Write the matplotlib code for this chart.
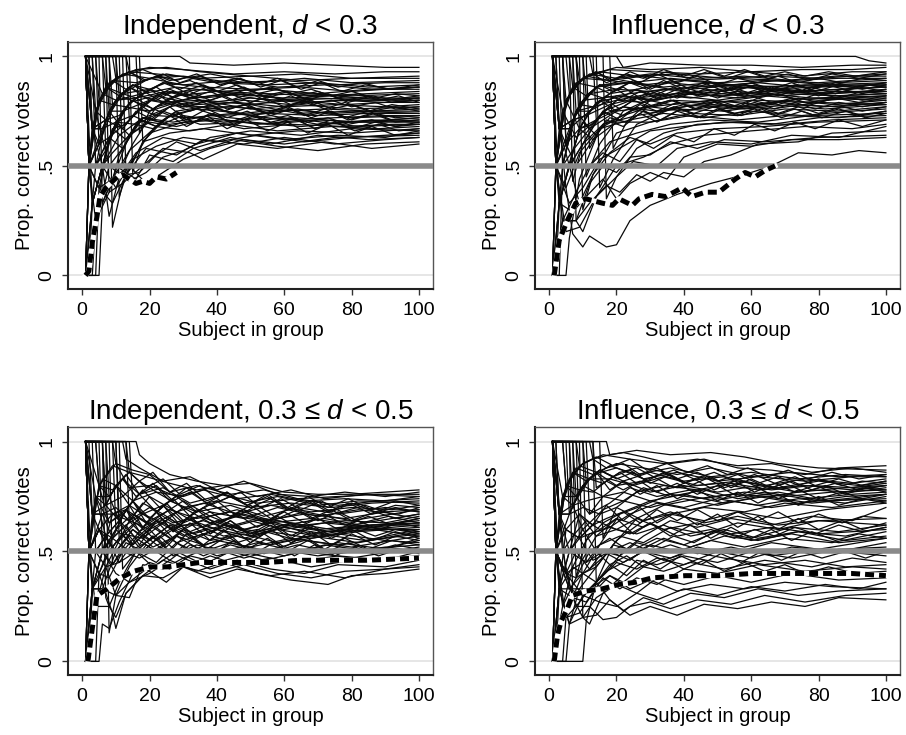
import matplotlib
matplotlib.use("Agg")
from matplotlib import pyplot as plt

plt.rcParams['font.family'] = ['Liberation Sans', 'DejaVu Sans']
plt.rcParams['mathtext.fontset'] = 'custom'
plt.rcParams['mathtext.rm'] = 'Liberation Sans'
plt.rcParams['mathtext.it'] = 'Liberation Sans:italic'

# each group line: "subject:percent-correct" anchors
tl_lines = [
    "1:100 29:100 32:97 45:96 60:97 75:96 90:95 100:95",
    "1:100 13:100 14:93 20:95 30:94 45:92 60:93 75:92 90:93 100:93",
    "1:100 9:100 10:90 16:94 25:95 35:93 50:91 65:92 80:90 100:91",
    "1:100 2:50 4:75 8:88 14:93 22:92 35:90 50:91 65:89 80:90 100:90",
    "1:100 3:67 6:83 12:92 20:90 30:91 45:88 60:89 75:87 90:88 100:88",
    "1:0 2:50 4:75 9:89 16:88 25:92 40:88 55:87 70:88 85:86 100:87",
    "1:100 6:100 7:57 10:70 15:80 24:88 36:86 50:85 65:86 80:84 100:86",
    "1:100 2:50 5:60 10:80 18:83 28:86 40:84 55:85 70:83 85:85 100:85",
    "1:100 16:100 17:65 20:75 28:82 40:84 55:83 70:82 85:83 100:84",
    "1:0 4:0 5:40 8:62 14:79 24:83 36:85 50:82 65:83 80:82 100:83",
    "1:100 11:100 12:50 15:60 22:77 32:81 45:83 60:81 75:82 90:80 100:82",
    "1:100 2:50 3:67 7:71 12:83 20:85 30:80 42:83 55:80 70:81 85:80 100:81",
    "1:0 2:50 6:67 10:80 16:81 25:84 38:79 50:81 65:79 80:80 100:80",
    "1:100 7:100 8:38 11:55 17:71 26:77 36:80 50:78 62:80 78:78 90:79 100:79",
    "1:100 3:100 4:50 8:63 14:71 22:82 34:78 46:79 60:77 75:78 90:77 100:78",
    "1:100 2:50 5:80 9:78 15:87 24:79 35:80 50:76 65:78 80:76 100:77",
    "1:0 3:0 4:25 7:57 12:75 20:80 30:77 44:77 58:75 72:76 86:75 100:76",
    "1:100 14:100 15:47 18:61 25:72 34:76 48:74 60:76 74:74 88:75 100:75",
    "1:100 2:50 4:50 8:63 13:77 20:75 28:79 40:73 55:74 70:73 85:74 100:74",
    "1:100 5:100 6:33 9:44 14:64 22:73 32:72 45:74 60:71 75:72 90:73 100:73",
    "1:0 2:0 3:33 6:50 11:64 18:72 27:70 38:73 50:71 64:72 80:70 100:72",
    "1:100 10:100 11:36 14:50 20:65 30:70 42:71 55:69 70:71 85:70 100:71",
    "1:100 2:50 3:33 6:50 10:70 16:69 24:75 35:69 50:70 65:68 80:70 100:70",
    "1:100 4:75 8:50 12:58 18:72 26:69 36:71 48:67 62:69 78:68 92:69 100:69",
    "1:0 5:0 6:33 9:44 14:57 22:68 32:66 44:69 58:66 74:68 88:67 100:68",
    "1:100 8:100 9:22 12:42 18:61 26:65 36:67 50:64 64:66 80:65 100:67",
    "1:100 2:50 6:50 8:27 11:45 16:56 24:63 34:60 46:65 60:62 76:64 90:63 100:66",
    "1:100 3:67 6:50 10:40 15:53 22:59 30:63 40:61 52:64 66:61 80:63 100:65",
    "1:0 2:50 5:40 9:33 13:46 19:58 28:55 36:62 48:60 60:63 75:60 90:62 100:63",
    "1:100 12:100 13:46 17:47 22:55 28:61 35:57 45:62 58:59 70:57 84:60 100:61",
    "1:100 2:50 4:25 8:38 12:42 18:50 24:58 32:56 36:53 46:60 58:58 72:61 86:58 100:60",
    "1:100 3:33 6:50 10:50 16:44 20:55 27:52 33:58 44:63 56:60 70:64 85:62 100:63",
    "1:0 4:25 8:50 14:43 19:47 24:54 30:57 38:63 50:66 65:64 80:67 100:66",
    "1:100 2:50 5:40 9:44 14:50 19:42 25:48 30:53 38:58 48:62 60:60 75:63 100:64",
    "1:100 17:100 18:61 22:68 28:75 36:77 48:80 62:78 76:80 90:79 100:80",
    "1:100 4:100 5:80 10:90 18:94 26:89 38:92 52:88 66:90 80:88 100:89",
    "1:100 2:50 4:75 7:86 12:83 20:90 30:87 44:89 58:86 72:87 86:85 100:86",
    "1:0 2:50 3:67 7:71 11:82 18:78 26:84 36:81 48:83 62:80 78:81 100:81",
    "1:100 6:83 10:80 14:86 20:80 28:79 38:76 50:78 64:74 80:75 100:74",
    "1:100 2:100 3:67 6:67 10:70 15:73 22:68 30:73 42:70 56:73 70:69 86:71 100:70",
    "1:100 3:100 4:75 7:71 12:67 18:78 26:73 36:77 50:73 64:76 80:72 100:73",
    "1:0 3:33 6:50 9:56 14:64 20:70 28:68 38:72 52:69 66:71 82:68 100:69",
    "1:100 2:50 5:80 9:89 13:85 17:88 22:91 27:87 32:89 38:85 44:88 50:84 56:86 62:83 68:85 74:82 80:84 87:81 93:83 100:82",
    "1:0 2:50 4:75 7:86 11:82 15:87 20:85 25:88 30:84 36:87 42:83 48:86 54:82 60:84 66:81 72:83 78:80 85:82 92:79 100:80",
    "1:100 7:100 8:75 11:82 15:87 19:84 24:88 29:85 34:88 40:84 46:87 52:83 58:85 64:82 70:84 76:81 82:83 88:80 94:82 100:79",
    "1:100 3:67 6:67 9:78 13:77 17:82 22:80 27:84 32:81 38:84 44:80 50:83 56:79 62:82 68:78 74:80 80:77 87:79 93:76 100:77",
    "1:100 10:100 11:82 14:86 18:83 22:86 27:81 32:84 38:80 44:83 50:79 56:82 62:78 68:80 74:76 80:78 86:75 93:77 100:75",
    "1:0 3:33 6:50 9:67 13:69 17:76 22:73 27:78 32:75 38:78 44:74 50:77 56:73 62:76 68:72 74:75 80:71 87:74 93:72 100:73",
    "1:100 2:50 4:50 7:71 11:73 15:80 20:75 25:80 30:77 36:79 42:75 48:78 54:74 60:77 66:73 72:76 78:72 85:75 92:71 100:72",
    "1:100 4:100 5:60 8:75 12:75 16:81 21:76 26:81 31:77 37:80 43:76 49:78 55:74 61:77 67:73 73:75 79:71 86:74 93:70 100:71",
    "1:100 2:50 6:50 9:67 13:62 17:71 22:68 27:74 32:69 38:74 44:70 50:73 56:70 62:72 68:68 74:71 80:67 87:70 93:68 100:69",
    "1:0 2:50 5:60 8:75 12:67 16:75 21:71 26:77 31:71 37:76 43:72 49:75 55:71 61:73 67:70 73:72 79:69 86:71 93:68 100:70",
    "1:100 13:100 14:71 17:76 21:81 26:85 31:82 37:86 43:82 49:85 55:81 61:84 67:80 73:83 79:79 86:82 93:80 100:81",
    "1:100 2:100 3:67 6:83 10:90 14:93 19:89 24:92 29:88 35:91 41:87 47:90 53:86 59:89 65:85 71:88 77:84 84:87 92:85 100:86",
    "1:100 6:100 7:86 10:90 14:93 18:89 23:91 28:89 34:92 40:88 46:90 52:87 58:90 64:86 70:89 76:86 83:88 91:85 100:87",
    "1:0 4:50 7:57 10:70 14:64 18:72 23:70 28:75 33:70 39:74 45:69 51:73 57:69 63:72 69:67 75:70 81:66 88:69 94:66 100:67",
    "1:100 3:67 5:60 8:63 12:58 16:69 21:67 26:73 31:68 37:73 43:67 49:71 55:66 61:70 67:65 73:69 79:64 86:68 93:64 100:65",
    "1:100 8:100 9:78 12:83 16:81 20:85 25:80 30:84 36:79 42:82 48:78 54:81 60:77 66:80 72:76 78:79 85:75 92:78 100:76",
]

tr_lines = [
    "1:100 91:100 95:98 100:97",
    "1:100 20:100 22:95 30:97 45:96 60:96 75:95 90:96 100:96",
    "1:100 12:100 13:92 20:95 30:94 45:95 60:93 75:94 90:94 100:95",
    "1:100 2:50 5:80 10:90 18:94 30:93 45:92 60:93 75:91 90:93 100:93",
    "1:100 8:100 9:89 15:93 25:91 38:92 52:90 66:91 80:90 100:92",
    "1:0 2:50 5:80 10:90 18:89 28:91 40:89 55:90 70:89 85:91 100:91",
    "1:100 4:100 5:60 9:78 15:87 24:88 36:90 50:88 64:89 80:88 100:90",
    "1:100 18:100 19:58 23:70 30:80 42:85 56:87 70:86 85:88 100:89",
    "1:100 2:50 4:75 8:88 14:86 22:89 34:86 48:88 62:86 76:87 90:86 100:88",
    "1:0 3:0 4:50 8:75 14:86 24:88 36:85 50:87 64:85 80:86 100:87",
    "1:100 10:100 11:45 15:60 22:75 32:82 44:84 58:86 72:84 86:85 100:86",
    "1:100 3:67 7:71 12:83 20:85 30:84 42:86 56:83 70:85 85:83 100:85",
    "1:100 6:100 7:43 10:60 16:75 26:81 38:83 52:82 66:84 80:83 100:84",
    "1:100 2:50 6:67 12:75 20:82 30:80 42:83 56:81 70:83 85:82 100:83",
    "1:0 5:0 6:17 9:44 15:67 24:75 36:80 50:79 64:82 80:80 100:82",
    "1:100 14:100 15:40 19:53 26:69 36:76 48:79 62:80 76:79 90:81 100:81",
    "1:100 2:50 3:33 7:57 12:67 20:75 30:77 42:79 56:77 70:80 85:78 100:80",
    "1:100 4:75 8:63 14:71 22:77 32:75 44:78 58:76 72:78 86:77 100:79",
    "1:0 2:0 3:33 6:50 10:60 16:69 26:73 38:76 52:75 66:78 82:76 100:78",
    "1:100 9:100 10:30 13:46 20:65 30:70 42:74 56:73 70:76 85:75 100:77",
    "1:100 2:50 5:40 9:56 15:67 24:71 34:74 46:72 60:75 75:73 90:75 100:76",
    "1:100 3:100 4:50 8:50 13:62 20:70 30:70 42:73 56:71 70:73 86:72 100:75",
    "1:0 4:25 8:38 12:50 18:61 26:65 36:69 48:71 62:70 78:73 100:74",
    "1:100 2:50 6:33 10:40 15:53 22:59 30:66 40:68 52:70 66:69 80:72 100:73",
    "1:100 16:100 17:35 20:45 26:58 34:65 44:69 56:70 70:69 84:71 100:72",
    "1:100 3:67 6:50 9:33 13:46 18:56 24:63 30:60 38:65 50:67 64:68 80:70 100:71",
    "1:100 7:100 8:25 10:20 14:36 20:50 28:54 36:60 46:64 60:66 76:68 90:67 100:69",
    "1:0 2:50 5:20 9:22 14:36 20:45 25:52 32:50 38:58 48:61 60:60 72:64 86:63 100:68",
    "1:100 2:50 4:25 8:25 12:42 16:50 20:47 24:54 30:55 36:61 44:58 52:62 64:61 80:63 100:64",
    "1:100 3:33 7:29 11:36 16:44 20:35 24:42 30:47 35:44 40:54 50:60 60:59 72:62 86:62 100:63",
    "1:100 5:40 7:19 10:13 12:18 17:13 20:14 24:25 30:32 38:37 48:42 58:46 66:50 74:56 84:55 92:57 100:56",
    "1:0 4:25 8:25 12:33 17:41 21:38 26:46 30:43 34:47 40:45 46:52 54:55 62:60 74:61 84:65 100:66",
    "1:100 2:100 3:67 7:86 12:92 20:90 30:92 44:90 58:91 72:89 86:90 100:90",
    "1:100 5:100 6:83 11:91 18:89 28:87 40:89 54:87 68:89 82:87 100:88",
    "1:0 2:50 4:50 8:75 13:77 20:80 30:83 42:81 56:84 70:82 84:84 100:84",
    "1:100 2:50 3:67 7:71 11:73 18:78 26:81 36:78 48:80 62:78 76:81 100:80",
    "1:100 4:100 5:80 9:67 14:79 22:82 32:80 44:84 58:82 72:84 86:82 100:83",
    "1:100 11:100 12:58 16:69 22:73 30:77 40:75 52:78 66:76 80:79 100:78",
    "1:0 3:33 6:50 10:60 15:73 22:77 30:74 40:78 54:76 68:79 82:77 100:79",
    "1:100 2:50 5:60 9:67 14:71 20:80 28:79 38:82 50:80 64:83 78:81 100:82",
    "1:100 3:67 6:67 10:80 16:81 24:83 34:85 46:83 60:86 74:84 88:85 100:86",
    "1:100 8:100 9:67 12:75 18:83 26:85 36:88 48:86 62:88 76:86 90:87 100:87",
    "1:100 2:50 5:80 9:89 13:92 17:88 22:91 27:88 32:92 38:88 44:91 50:87 56:90 62:88 68:91 74:88 80:90 87:88 93:90 100:89",
    "1:0 2:50 4:75 7:86 11:82 15:87 20:85 25:89 30:85 36:89 42:85 48:88 54:85 60:88 66:85 72:88 78:85 85:88 92:86 100:88",
    "1:100 7:100 8:75 11:82 15:87 19:84 24:88 29:85 34:89 40:85 46:88 52:84 58:87 64:84 70:87 76:84 82:87 88:85 94:87 100:86",
    "1:100 3:67 6:67 9:78 13:77 17:82 22:80 27:84 32:81 38:85 44:82 50:85 56:82 62:85 68:82 74:85 80:82 87:85 93:83 100:85",
    "1:100 10:100 11:82 14:86 18:83 22:86 27:81 32:84 38:81 44:84 50:81 56:84 62:81 68:83 74:80 80:83 86:81 93:84 100:83",
    "1:0 3:33 6:50 9:67 13:69 17:76 22:73 27:78 32:75 38:79 44:76 50:80 56:77 62:81 68:78 74:81 80:79 87:82 93:80 100:82",
    "1:100 2:50 4:50 7:71 11:73 15:80 20:75 25:80 30:77 36:80 42:77 48:80 54:77 60:80 66:78 72:81 78:78 85:81 92:79 100:81",
    "1:100 4:100 5:60 8:75 12:75 16:81 21:76 26:81 31:77 37:80 43:76 49:79 55:76 61:79 67:76 73:79 79:76 86:79 93:77 100:79",
    "1:100 2:50 6:50 9:67 13:62 17:71 22:68 27:74 32:70 38:75 44:72 50:76 56:73 62:77 68:74 74:77 80:74 87:77 93:75 100:77",
    "1:0 2:50 5:60 8:75 12:67 16:75 21:71 26:77 31:73 37:77 43:74 49:77 55:74 61:76 67:73 73:76 79:73 86:76 93:73 100:75",
    "1:100 13:100 14:71 17:76 21:81 26:85 31:82 37:86 43:83 49:87 55:84 61:87 67:84 73:87 79:84 86:87 93:85 100:87",
    "1:100 2:100 3:67 6:83 10:90 14:93 19:89 24:93 29:90 35:93 41:90 47:93 53:90 59:93 65:90 71:92 77:89 84:92 92:90 100:92",
    "1:100 6:100 7:86 10:90 14:93 18:89 23:92 28:90 34:94 40:91 46:94 52:91 58:94 64:91 70:93 76:91 83:93 91:91 100:93",
    "1:0 4:50 7:57 10:70 14:64 18:72 23:70 28:75 33:71 39:76 45:72 51:76 57:73 63:76 69:72 75:75 81:72 88:75 94:72 100:74",
    "1:100 3:67 5:60 8:50 12:50 16:56 21:52 26:62 31:58 37:64 43:61 49:67 55:64 61:69 67:66 73:70 79:67 86:71 93:68 100:71",
    "1:100 8:100 9:78 12:83 16:81 20:85 25:80 30:84 36:81 42:85 48:82 54:86 60:83 66:86 72:83 78:86 85:83 92:86 100:84",
]

bl_lines = [
    "1:100 16:100 17:94 20:90 26:85 34:82 42:80 50:81 60:77 70:76 80:76 90:77 100:78",
    "1:100 12:100 13:92 17:88 24:82 32:84 40:78 48:82 58:76 68:75 78:77 90:75 100:77",
    "1:100 2:50 5:80 10:90 15:87 20:85 26:77 34:80 44:76 54:78 64:74 76:75 88:76 100:76",
    "1:100 9:100 10:90 14:79 20:80 28:75 36:78 46:74 56:76 66:73 78:74 90:73 100:75",
    "1:0 2:50 4:75 8:75 12:83 17:76 24:79 32:72 42:76 52:72 64:74 76:71 88:73 100:74",
    "1:100 6:100 7:71 10:80 15:73 22:77 30:70 40:73 50:70 62:72 74:70 86:72 100:73",
    "1:100 3:67 6:67 10:70 14:64 20:75 28:68 36:72 46:67 56:71 68:68 80:70 92:69 100:71",
    "1:100 14:100 15:73 18:67 24:71 30:63 38:68 48:65 58:70 70:66 82:69 94:67 100:70",
    "1:100 2:50 4:75 8:63 13:69 19:63 26:69 34:65 44:68 54:64 66:67 78:65 90:68 100:69",
    "1:0 3:33 6:50 10:60 15:67 21:62 28:68 36:61 46:66 56:63 68:65 80:62 100:67",
    "1:100 5:100 6:50 9:67 14:64 20:70 27:63 35:66 44:61 54:65 66:62 78:64 90:63 100:66",
    "1:100 2:50 5:60 8:50 12:58 17:65 24:58 31:65 40:60 50:64 60:60 72:63 86:61 100:65",
    "1:100 10:100 11:55 14:64 20:60 26:65 33:58 42:62 52:59 62:63 74:60 86:62 100:64",
    "1:0 4:0 5:40 8:50 12:58 18:56 24:63 32:56 40:60 50:57 60:61 72:58 86:62 100:63",
    "1:100 3:100 4:50 7:57 11:64 16:56 22:64 30:57 38:61 48:56 58:60 70:57 84:60 100:62",
    "1:100 2:50 3:33 6:50 10:60 15:53 21:62 28:54 36:58 46:54 56:59 68:56 82:59 100:61",
    "1:100 8:100 9:44 12:50 17:59 23:52 30:60 38:55 48:58 58:54 70:58 84:55 100:60",
    "1:0 2:0 3:33 6:33 10:50 15:60 21:52 28:57 36:53 46:57 56:53 68:57 82:54 100:59",
    "1:100 2:50 6:50 9:44 13:54 18:50 24:58 32:50 40:55 50:52 62:56 76:53 90:56 100:58",
    "1:100 4:75 7:57 11:45 16:56 22:50 28:57 36:50 44:54 54:50 66:55 80:52 100:57",
    "1:100 11:100 12:42 16:50 21:57 27:48 34:53 42:50 52:54 64:50 76:54 90:51 100:56",
    "1:0 3:33 7:43 10:30 14:43 19:53 26:46 32:53 40:48 50:52 60:48 72:53 86:50 100:55",
    "1:100 2:50 5:40 8:38 12:50 17:47 23:52 30:47 38:52 48:47 58:51 70:48 84:51 100:53",
    "1:100 6:100 7:29 8:25 11:36 16:50 21:43 28:50 36:44 44:50 54:46 66:50 80:47 100:52",
    "1:0 5:0 6:17 8:15 11:27 15:40 20:45 26:42 32:48 40:45 50:49 62:45 76:48 90:46 100:50",
    "1:100 2:50 4:25 8:25 10:20 13:31 18:39 24:46 30:43 38:48 46:44 56:47 68:43 80:46 100:48",
    "1:100 3:33 6:33 10:30 14:29 18:44 24:42 30:47 38:42 46:46 56:42 66:40 76:44 90:43 100:46",
    "1:0 2:50 5:40 9:22 10:15 13:31 18:39 24:38 30:43 38:40 48:44 58:40 68:38 78:41 90:42 100:44",
    "1:100 7:100 8:13 10:30 14:36 20:40 26:46 34:41 42:45 52:40 62:37 73:35 80:39 90:40 100:42",
    "1:100 2:50 6:50 10:40 14:36 19:42 25:36 30:43 38:38 46:42 56:39 66:41 78:38 90:42 100:43",
    "1:100 4:100 5:80 9:89 14:86 19:84 26:81 34:78 42:80 52:75 62:78 72:74 84:76 100:75",
    "1:100 2:50 3:67 7:71 12:75 17:82 22:77 30:75 38:79 48:72 58:75 70:71 82:73 100:72",
    "1:0 2:50 5:60 9:67 14:71 20:65 26:73 34:68 44:71 54:66 64:70 76:67 90:70 100:68",
    "1:100 13:100 14:64 18:72 24:67 30:73 38:66 46:69 56:64 66:68 80:64 92:67 100:65",
    "1:100 3:67 5:60 9:56 13:62 18:67 24:63 30:70 38:63 48:67 60:62 72:65 86:61 100:63",
    "1:0 2:0 3:33 5:40 9:56 14:50 20:55 26:62 34:56 42:62 52:58 62:62 74:59 88:60 100:60",
    "1:100 2:50 4:50 7:43 11:55 16:63 22:55 28:61 36:64 46:59 56:63 68:58 82:61 100:57",
    "1:100 5:80 8:63 12:67 17:59 23:65 30:60 38:66 48:60 58:64 70:60 84:62 100:62",
    "1:100 9:100 10:60 13:69 18:61 24:67 32:59 40:64 50:58 60:62 72:59 86:61 100:59",
    "1:100 2:50 5:60 10:50 15:60 20:55 26:62 34:62 42:57 52:60 64:55 76:58 90:55 100:54",
    "1:0 4:25 7:43 11:45 16:50 22:45 28:54 36:48 44:53 54:49 64:53 76:49 90:52 100:50",
    "1:100 2:50 5:80 9:78 13:85 17:76 22:80 27:73 32:77 38:71 44:75 50:70 56:74 62:69 68:73 74:68 80:72 87:68 93:71 100:70",
    "1:0 2:50 4:75 7:71 11:64 15:73 20:65 25:72 30:64 36:70 42:64 48:69 54:63 60:68 66:63 72:67 78:62 85:66 92:62 100:65",
    "1:100 7:100 8:75 11:64 15:73 19:63 24:71 29:62 34:69 40:62 46:67 52:61 58:66 64:61 70:65 76:60 82:64 88:60 94:63 100:61",
    "1:100 3:67 6:67 9:56 13:69 17:59 22:68 27:59 32:66 38:58 44:64 50:58 56:63 62:57 68:62 74:57 80:61 87:57 93:60 100:58",
    "1:100 10:100 11:64 14:71 18:61 22:68 27:59 32:66 38:58 44:64 50:57 56:62 62:56 68:61 74:56 80:60 86:55 93:59 100:56",
    "1:0 3:33 6:50 9:56 13:62 17:53 22:64 27:56 32:63 38:55 44:61 50:54 56:60 62:54 68:59 74:53 80:58 87:53 93:57 100:55",
    "1:100 2:50 4:50 7:57 11:64 15:53 20:60 25:52 30:60 36:53 42:60 48:52 54:58 60:52 66:57 72:51 78:56 85:51 92:55 100:53",
    "1:100 4:100 5:80 8:75 12:83 16:75 21:81 26:73 31:79 37:72 43:77 49:71 55:76 61:70 67:75 73:70 79:74 86:69 93:73 100:71",
    "1:100 2:50 6:67 9:67 13:69 17:76 22:68 27:74 32:66 38:72 44:66 50:71 56:65 62:70 68:65 74:69 80:64 87:68 93:65 100:67",
    "1:0 2:50 5:60 8:50 12:58 16:50 21:57 26:50 31:58 37:51 43:57 49:51 55:56 61:50 67:55 73:50 79:54 86:50 93:53 100:51",
    "1:100 13:100 14:86 17:82 21:86 26:77 31:81 37:73 43:77 49:71 55:75 61:69 67:73 73:68 79:72 86:67 93:70 100:68",
    "1:100 2:100 3:67 6:83 10:80 14:86 19:79 24:83 29:76 35:80 41:73 47:77 53:70 59:74 65:69 71:73 77:68 84:71 92:67 100:69",
    "1:100 6:100 7:71 10:80 14:71 18:78 23:70 28:75 34:68 40:73 46:66 52:71 58:65 64:69 70:64 76:68 83:63 91:66 100:63",
    "1:0 4:50 7:57 10:50 14:57 18:50 23:57 28:50 33:56 39:49 45:55 51:49 57:54 63:48 69:53 75:48 81:52 88:48 94:51 100:49",
]

br_lines = [
    "1:100 17:100 18:94 22:95 28:93 36:90 46:92 56:88 66:87 76:85 86:88 100:89",
    "1:100 12:100 13:92 18:94 26:96 36:94 48:95 58:93 68:90 80:88 100:87",
    "1:100 2:50 5:80 10:90 16:94 24:92 34:90 44:92 56:89 66:90 78:86 90:88 100:86",
    "1:100 8:100 9:89 14:86 20:90 28:88 38:85 48:88 60:84 72:86 86:84 100:85",
    "1:0 2:50 4:75 8:88 13:85 20:88 28:83 38:86 50:82 62:84 76:82 90:84 100:84",
    "1:100 5:100 6:67 10:80 15:87 22:82 30:86 40:82 52:84 64:80 76:83 90:81 100:83",
    "1:100 3:67 7:71 12:83 18:83 25:80 34:84 44:80 56:82 68:79 80:82 92:80 100:82",
    "1:100 15:100 16:56 20:70 26:77 34:80 44:78 54:81 66:78 78:80 90:79 100:81",
    "1:100 2:50 6:67 10:80 16:75 22:82 30:77 40:80 50:77 62:80 74:77 88:79 100:80",
    "1:0 10:0 11:18 14:36 19:53 26:65 34:71 44:74 54:76 66:75 78:78 90:77 100:79",
    "1:100 10:100 11:45 15:53 21:67 28:71 36:76 46:74 58:77 70:75 84:77 100:78",
    "1:100 4:75 8:75 12:67 18:72 24:79 32:75 42:78 52:74 64:77 76:74 90:76 100:77",
    "1:0 3:33 6:50 10:60 16:69 22:73 30:70 40:74 50:71 62:75 74:72 88:75 100:76",
    "1:100 7:100 8:38 11:55 16:63 22:68 30:73 40:70 50:74 62:71 74:74 88:72 100:75",
    "1:100 2:50 3:33 7:43 12:58 18:61 24:67 32:72 42:69 54:73 66:70 80:73 100:74",
    "1:0 5:0 6:17 9:33 14:43 20:55 28:64 36:67 46:70 58:68 70:72 84:70 100:73",
    "1:100 2:50 5:40 9:44 14:57 20:65 28:61 36:67 46:64 56:68 68:65 82:69 100:72",
    "1:100 13:100 14:36 17:41 22:50 28:57 36:64 44:61 54:65 66:62 78:66 90:64 100:70",
    "1:100 3:33 6:33 10:40 15:53 21:57 28:54 36:61 46:58 56:63 68:60 80:64 100:65",
    "1:0 2:50 5:40 8:38 12:50 18:56 24:50 32:56 40:53 50:59 60:56 72:61 86:59 100:62",
    "1:100 6:100 7:29 10:40 14:43 19:53 26:50 34:56 42:52 52:57 62:55 74:59 88:57 100:61",
    "1:100 2:50 4:25 8:38 12:42 18:50 24:46 30:53 38:50 48:55 58:52 70:56 84:54 100:59",
    "1:0 4:0 5:20 8:25 12:33 17:41 22:45 28:50 36:47 44:52 54:49 66:54 80:51 100:56",
    "1:100 3:33 6:17 10:30 14:36 20:45 26:42 32:47 40:44 50:50 60:47 72:52 86:50 100:54",
    "1:100 9:100 10:20 12:17 16:31 21:38 26:46 32:44 40:48 50:45 60:50 72:47 86:51 100:52",
    "1:100 2:50 5:20 9:22 13:31 18:39 22:36 28:43 34:41 42:45 52:42 64:46 78:43 90:47 100:45",
    "1:0 2:0 3:33 7:29 11:27 16:38 21:33 26:38 32:35 40:42 50:40 62:44 76:41 90:43 100:42",
    "1:100 4:50 7:29 10:20 14:29 20:35 26:31 32:38 40:35 50:39 60:36 72:40 86:37 100:38",
    "1:100 2:50 6:33 10:30 15:27 20:25 26:31 32:28 40:33 50:30 60:34 70:32 82:35 92:33 100:36",
    "1:0 3:33 6:17 10:20 14:21 18:28 22:23 28:29 34:26 42:31 52:29 62:33 74:30 86:32 100:33",
    "1:100 5:40 8:25 12:25 16:19 20:20 24:25 30:27 36:24 44:28 54:26 64:30 76:27 88:30 100:31",
    "1:100 2:50 5:40 10:30 14:36 18:28 24:21 30:25 38:21 46:26 56:24 66:27 76:25 86:29 100:28",
    "1:0 2:50 6:33 12:33 18:39 24:33 30:37 38:32 48:35 58:33 70:36 84:34 100:33",
    "1:100 3:67 6:50 11:45 16:50 22:45 28:50 34:46 42:50 52:47 64:44 76:46 88:43 100:44",
    "1:100 2:100 3:67 7:86 12:83 18:89 26:85 36:88 48:84 60:86 74:83 88:85 100:84",
    "1:100 4:100 5:80 9:78 14:86 20:80 28:82 38:79 50:81 62:78 76:80 90:78 100:80",
    "1:0 2:50 4:75 7:71 11:73 16:75 22:77 30:73 40:76 52:72 64:75 78:72 92:74 100:73",
    "1:100 11:100 12:67 16:75 22:73 28:79 36:75 46:78 56:74 68:77 82:73 100:76",
    "1:100 2:50 3:67 6:67 10:70 15:67 20:70 28:64 36:68 46:63 56:66 68:62 80:64 100:62",
    "1:100 3:67 5:60 9:56 14:64 20:60 26:65 34:60 44:63 54:58 66:61 80:58 100:60",
    "1:0 3:33 5:60 9:67 14:57 20:60 26:58 34:62 42:57 52:60 62:56 74:59 88:55 100:57",
    "1:100 8:100 9:56 12:58 18:61 24:58 30:63 38:57 48:60 60:55 72:58 86:54 100:56",
    "1:100 2:50 5:60 9:56 13:46 18:50 24:54 30:50 36:53 44:49 54:52 66:48 80:51 100:48",
    "1:100 2:50 5:80 9:89 13:92 17:88 22:90 27:85 32:88 38:83 44:86 50:82 56:85 62:81 68:84 74:80 80:83 87:80 93:82 100:81",
    "1:0 2:50 4:75 7:86 11:82 15:87 20:83 25:86 30:81 36:85 42:80 48:84 54:79 60:83 66:79 72:82 78:78 85:81 92:78 100:80",
    "1:100 7:100 8:75 11:82 15:87 19:84 24:87 29:82 34:86 40:81 46:84 52:79 58:82 64:78 70:81 76:77 82:80 88:76 94:79 100:77",
    "1:100 3:67 6:67 9:78 13:77 17:82 22:78 27:82 32:77 38:81 44:76 50:80 56:75 62:79 68:74 74:78 80:74 87:77 93:74 100:76",
    "1:100 10:100 11:82 14:86 18:78 22:82 27:76 32:80 38:74 44:78 50:73 56:77 62:72 68:76 74:71 80:75 86:71 93:74 100:72",
    "1:0 3:33 6:50 9:67 13:62 17:71 22:64 27:70 32:63 38:68 44:62 50:67 56:61 62:66 68:60 74:65 80:60 87:64 93:60 100:63",
    "1:100 2:50 4:50 7:57 11:64 15:60 20:65 25:58 30:63 36:57 42:62 48:56 54:61 60:56 66:60 72:55 78:59 85:55 92:58 100:56",
    "1:100 4:100 5:80 8:75 12:83 16:81 21:86 26:81 31:84 37:79 43:83 49:78 55:82 61:77 67:81 73:77 79:80 86:76 93:79 100:78",
    "1:100 2:50 6:50 9:56 13:62 17:65 22:68 27:63 32:69 38:64 44:69 50:64 56:68 62:64 68:68 74:63 80:67 87:63 93:66 100:65",
    "1:0 2:50 5:40 8:50 12:42 16:50 21:48 26:54 31:52 37:57 43:54 49:59 55:56 61:60 67:57 73:61 79:58 86:62 93:59 100:61",
    "1:100 13:100 14:79 17:82 21:86 26:88 31:84 37:87 43:83 49:86 55:82 61:85 67:81 73:84 79:80 86:83 93:80 100:82",
    "1:100 2:100 3:67 6:83 10:90 14:93 19:89 24:92 29:87 35:90 41:86 47:89 53:85 59:88 65:84 71:87 77:83 84:86 92:83 100:85",
    "1:100 6:100 7:71 10:60 14:50 18:44 23:48 28:43 34:47 40:42 46:46 52:41 58:45 64:41 70:44 76:40 83:43 91:40 100:41",
    "1:0 4:25 7:43 10:40 14:36 18:44 23:39 28:46 33:42 39:48 45:44 51:49 57:45 63:50 69:46 75:50 81:47 88:50 94:47 100:50",
]

# the thick dashed line in each panel
tl_dash_x = [1, 2, 3, 4.4, 5.3, 7, 10.4, 12, 14, 16, 18, 20, 22, 25, 28]
tl_dash_y = [0, 0.02, 0.15, 0.27, 0.36, 0.40, 0.45, 0.46, 0.44, 0.42, 0.43, 0.42, 0.45, 0.44, 0.47]
tr_dash_x = [1.5, 3, 5.4, 7.9, 10.9, 15.8, 18.8, 20.7, 24.7, 26.7, 30.6, 34.6, 39.5, 42.4, 46.4, 50.4, 55.3, 58.2, 61.2, 64.2, 67.1]
tr_dash_y = [0, 0.16, 0.25, 0.33, 0.35, 0.33, 0.32, 0.35, 0.32, 0.35, 0.37, 0.36, 0.40, 0.36, 0.38, 0.38, 0.44, 0.47, 0.45, 0.48, 0.50]
bl_dash_x = [1.7, 3, 4.4, 7.4, 11.4, 15.3, 20.2, 25.2, 30.1, 35, 45, 54.8, 64.7, 74.5, 84.4, 100]
bl_dash_y = [0, 0.15, 0.30, 0.33, 0.38, 0.41, 0.43, 0.43, 0.44, 0.45, 0.45, 0.45, 0.46, 0.46, 0.46, 0.47]
br_dash_x = [1.5, 2.5, 3.5, 5.4, 6.9, 10.9, 15.8, 20.7, 25.7, 30.6, 40.5, 50.3, 60.2, 70.1, 80, 89.8, 100]
br_dash_y = [0, 0.12, 0.18, 0.24, 0.30, 0.32, 0.33, 0.35, 0.36, 0.38, 0.39, 0.39, 0.40, 0.40, 0.40, 0.40, 0.39]

titles = ["Independent, $d$ < 0.3", "Influence, $d$ < 0.3",
          "Independent, 0.3 \u2264 $d$ < 0.5", "Influence, 0.3 \u2264 $d$ < 0.5"]


def parse(s):
    xs, ys = [], []
    for p in s.split():
        a, b = p.split(":")
        xs.append(int(a))
        ys.append(int(b) / 100)
    return xs, ys


fig = plt.figure(figsize=(9.06, 7.35), dpi=100)
boxes = [[0.0751, 0.6068, 0.4029, 0.3361], [0.5905, 0.6068, 0.4029, 0.3361],
         [0.0751, 0.0816, 0.4029, 0.3374], [0.5905, 0.0816, 0.4029, 0.3374]]
panels = [(tl_lines, tl_dash_x, tl_dash_y), (tr_lines, tr_dash_x, tr_dash_y),
          (bl_lines, bl_dash_x, bl_dash_y), (br_lines, br_dash_x, br_dash_y)]

for box, (lines, dx, dy), title in zip(boxes, panels, titles):
    ax = fig.add_axes(box)
    ax.axhline(0, color="#e2e2e2", lw=1.2, zorder=1)
    ax.axhline(1, color="#e2e2e2", lw=1.2, zorder=1)
    for s in lines:
        xs, ys = parse(s)
        ax.plot(xs, ys, color="#0a0a0a", lw=0.9, zorder=2)
    ax.axhline(0.5, color="#8a8a8a", lw=4, zorder=3)
    ax.plot(dx, dy, color="white", lw=3.6, zorder=4)
    ax.plot(dx, dy, color="black", lw=3.6, dashes=(1.8, 1.0), zorder=5)

    ax.set_xlim(-4.2, 104.2)
    ax.set_ylim(-0.062, 1.066)
    ax.set_xticks(range(0, 101, 20))
    ax.set_yticks([0, 0.5, 1])
    ax.set_yticklabels(["0", ".5", "1"], rotation=90, va="center")
    ax.tick_params(labelsize=14, length=4, width=1, color="#333333")
    ax.tick_params(axis="x", pad=5)
    ax.tick_params(axis="y", pad=5)
    ax.set_xlabel("Subject in group", fontsize=14.5, labelpad=2)
    ax.set_ylabel("Prop. correct votes", fontsize=14.5, labelpad=3)
    ax.set_title(title, fontsize=20, pad=6)
    for side in ["left", "bottom"]:
        ax.spines[side].set_linewidth(1.5)
        ax.spines[side].set_color("#222222")
    for side in ["top", "right"]:
        ax.spines[side].set_linewidth(1.0)
        ax.spines[side].set_color("#555555")

plt.savefig("out.png", dpi=100)
